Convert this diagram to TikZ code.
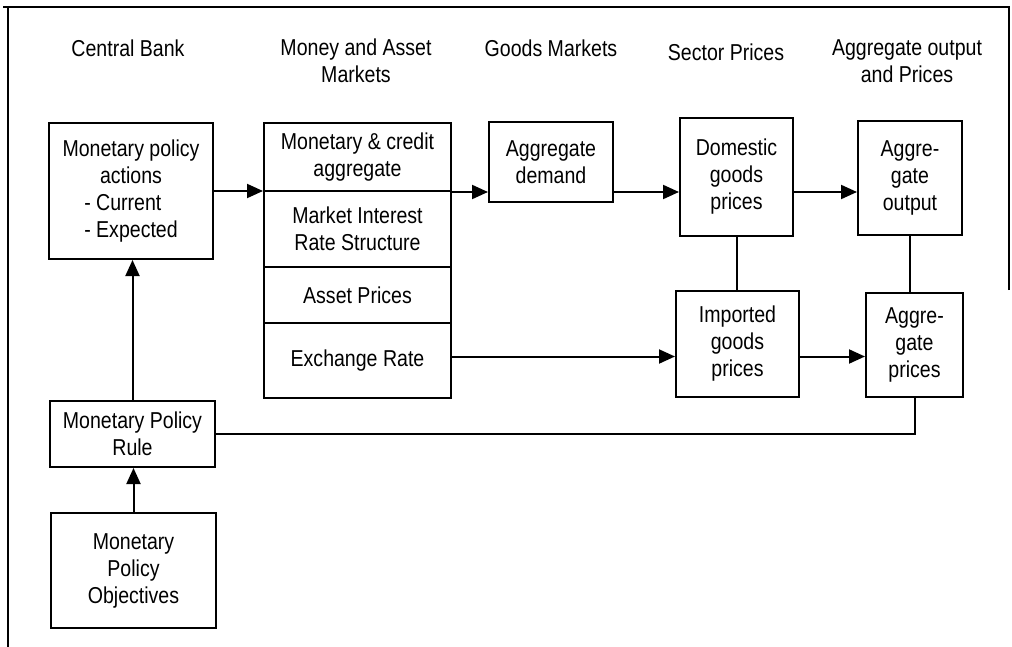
\documentclass[tikz,border=0pt]{standalone}
\usepackage{fontspec}
\setmainfont[FakeStretch=0.85]{Liberation Sans}
\usetikzlibrary{arrows.meta}
\tikzset{%
    box/.style={draw,line width=1pt,align=center,inner sep=2pt,font=\fontsize{11.5}{13.5}\selectfont}
}

\begin{document}
\begin{tikzpicture}[
        x=0.5pt, y=-0.5pt,
        title/.style={align=center,font=\fontsize{11.5}{13.5}\selectfont},
        arr/.style={line width=1pt,-{Triangle[length=8pt,width=7pt]}},
        edge/.style={line width=1pt}
        ]
        \useasboundingbox (0,0) rectangle (1012,647);
        \draw[line width=0.6pt] (1009,290) -- (1009,7) -- (3,7);
        \draw[line width=0.6pt] (8,7) -- (8,647);

        \node[title] (tcb) at (128,48) {Central Bank};
        \node[title] (tma) at (356,61) {Money and Asset\\Markets};
        \node[title] (tgm) at (551,48) {Goods Markets};
        \node[title] (tsp) at (726,52) {Sector Prices};
        \node[title] (tao) at (907,61) {Aggregate output\\and Prices};

        \node[box,minimum width=82pt,minimum height=68pt] (mpa) at (131,191) {Monetary policy\\actions\\\rlap{- Current}\phantom{- Expected}\\- Expected};
        \node[box,minimum width=82.5pt,minimum height=33pt] (rule) at (132.5,434) {Monetary Policy\\Rule};
        \node[box,minimum width=82.5pt,minimum height=57.5pt] (obj) at (133.5,570.5) {Monetary\\Policy\\Objectives};

        \node[box,minimum width=93.5pt,minimum height=34pt] (mca) at (357.5,157) {Monetary \& credit\\aggregate};
        \node[box,minimum width=93.5pt,minimum height=38pt] (mir) at (357.5,229) {Market Interest\\Rate Structure};
        \node[box,minimum width=93.5pt,minimum height=28pt] (ap) at (357.5,295) {Asset Prices};
        \node[box,minimum width=93.5pt,minimum height=37.5pt] (er) at (357.5,360.5) {Exchange Rate};

        \node[box,minimum width=62pt,minimum height=40pt] (ad) at (551,162) {Aggregate\\demand};
        \node[box,minimum width=56.5pt,minimum height=59pt] (dgp) at (736.5,177) {Domestic\\goods\\prices};
        \node[box,minimum width=61.5pt,minimum height=53pt] (igp) at (737.5,344) {Imported\\goods\\prices};
        \node[box,minimum width=52pt,minimum height=57pt] (ao) at (910,178) {Aggre-\\gate\\output};
        \node[box,minimum width=48.5pt,minimum height=52pt] (apr) at (914.5,345) {Aggre-\\gate\\prices};

        \coordinate (erx) at ([yshift=2pt]er.east);

        \draw[arr] (mpa.east) -- (mpa.east -| mca.west);
        \draw[arr] (mca.south east) -- (mca.south east -| ad.west);
        \draw[arr] (ad.east |- mca.south east) -- (dgp.west |- mca.south east);
        \draw[arr] (dgp.east |- mca.south east) -- (ao.west |- mca.south east);
        \draw[arr] (erx) -- (erx -| igp.west);
        \draw[arr] (igp.east |- erx) -- (apr.west |- erx);
        \draw[edge] (dgp.south) -- (dgp.south |- igp.north);
        \draw[edge] (ao.south) -- (ao.south |- apr.north);
        \draw[arr] (rule.north) -- (rule.north |- mpa.south);
        \draw[arr] (obj.north) -- (obj.north |- rule.south);
        \draw[edge] (rule.east) -| (apr.south);
    \end{tikzpicture}
\end{document}
